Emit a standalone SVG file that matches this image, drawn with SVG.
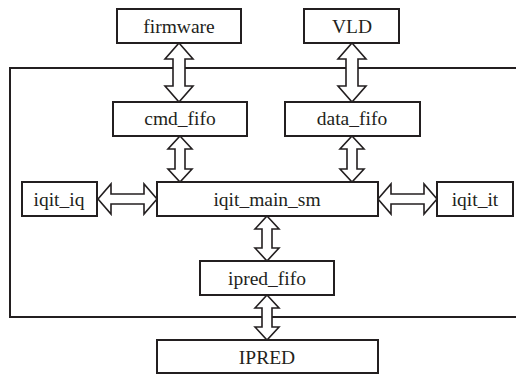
<svg xmlns="http://www.w3.org/2000/svg" width="516" height="374" viewBox="0 0 516 374">
<style>
.box{fill:#fff;stroke:#231f20;stroke-width:2}
.arr{fill:#fff;stroke:#231f20;stroke-width:1.6;stroke-linejoin:miter}
.frame{fill:none;stroke:#231f20;stroke-width:2}
text{font-family:"Liberation Serif","Times New Roman",serif;font-size:19.5px;fill:#231f20;text-anchor:middle}
</style>
<rect width="516" height="374" fill="#fff"/>
<path class="frame" d="M517,68 H10 V317 H517"/>
<g id="connectors">
<polygon class="arr" points="179,43 193,59 185,59 185,86 193,86 179,102 165,86 173,86 173,59 165,59"/>
<polygon class="arr" points="352,43 366,59 358,59 358,86 366,86 352,102 338,86 346,86 346,59 338,59"/>
<polygon class="arr" points="180,136 192,149 185,149 185,169 192,169 180,182 168,169 175,169 175,149 168,149"/>
<polygon class="arr" points="352,136 364,149 357,149 357,169 364,169 352,182 340,169 347,169 347,149 340,149"/>
<polygon class="arr" points="267,216 279,229 272,229 272,248 279,248 267,261 255,248 262,248 262,229 255,229"/>
<polygon class="arr" points="267,295 279,308 272,308 272,327 279,327 267,340 255,327 262,327 262,308 255,308"/>
<polygon class="arr" points="98,199 111,184 111,194 144,194 144,184 157,199 144,214 144,204 111,204 111,214"/>
<polygon class="arr" points="378,199 391,184 391,194 424,194 424,184 437,199 424,214 424,204 391,204 391,214"/>
</g>
<g id="firmware"><rect class="box" x="117" y="9" width="124" height="34"/><text x="179" y="33">firmware</text></g>
<g id="VLD"><rect class="box" x="304" y="9" width="95" height="34"/><text x="352" y="33">VLD</text></g>
<g id="cmd_fifo"><rect class="box" x="113" y="102" width="134" height="34"/><text x="180" y="125">cmd_fifo</text></g>
<g id="data_fifo"><rect class="box" x="285" y="102" width="135" height="34"/><text x="352" y="125">data_fifo</text></g>
<g id="iqit_iq"><rect class="box" x="22" y="182" width="75" height="34"/><text x="59" y="206">iqit_iq</text></g>
<g id="iqit_main_sm"><rect class="box" x="157" y="182" width="221" height="34"/><text x="267" y="206">iqit_main_sm</text></g>
<g id="iqit_it"><rect class="box" x="437" y="182" width="76" height="34"/><text x="475" y="206">iqit_it</text></g>
<g id="ipred_fifo"><rect class="box" x="200" y="261" width="134" height="34"/><text x="267" y="285">ipred_fifo</text></g>
<g id="IPRED"><rect class="box" x="157" y="340" width="221" height="33"/><text x="267" y="364">IPRED</text></g>
</svg>
